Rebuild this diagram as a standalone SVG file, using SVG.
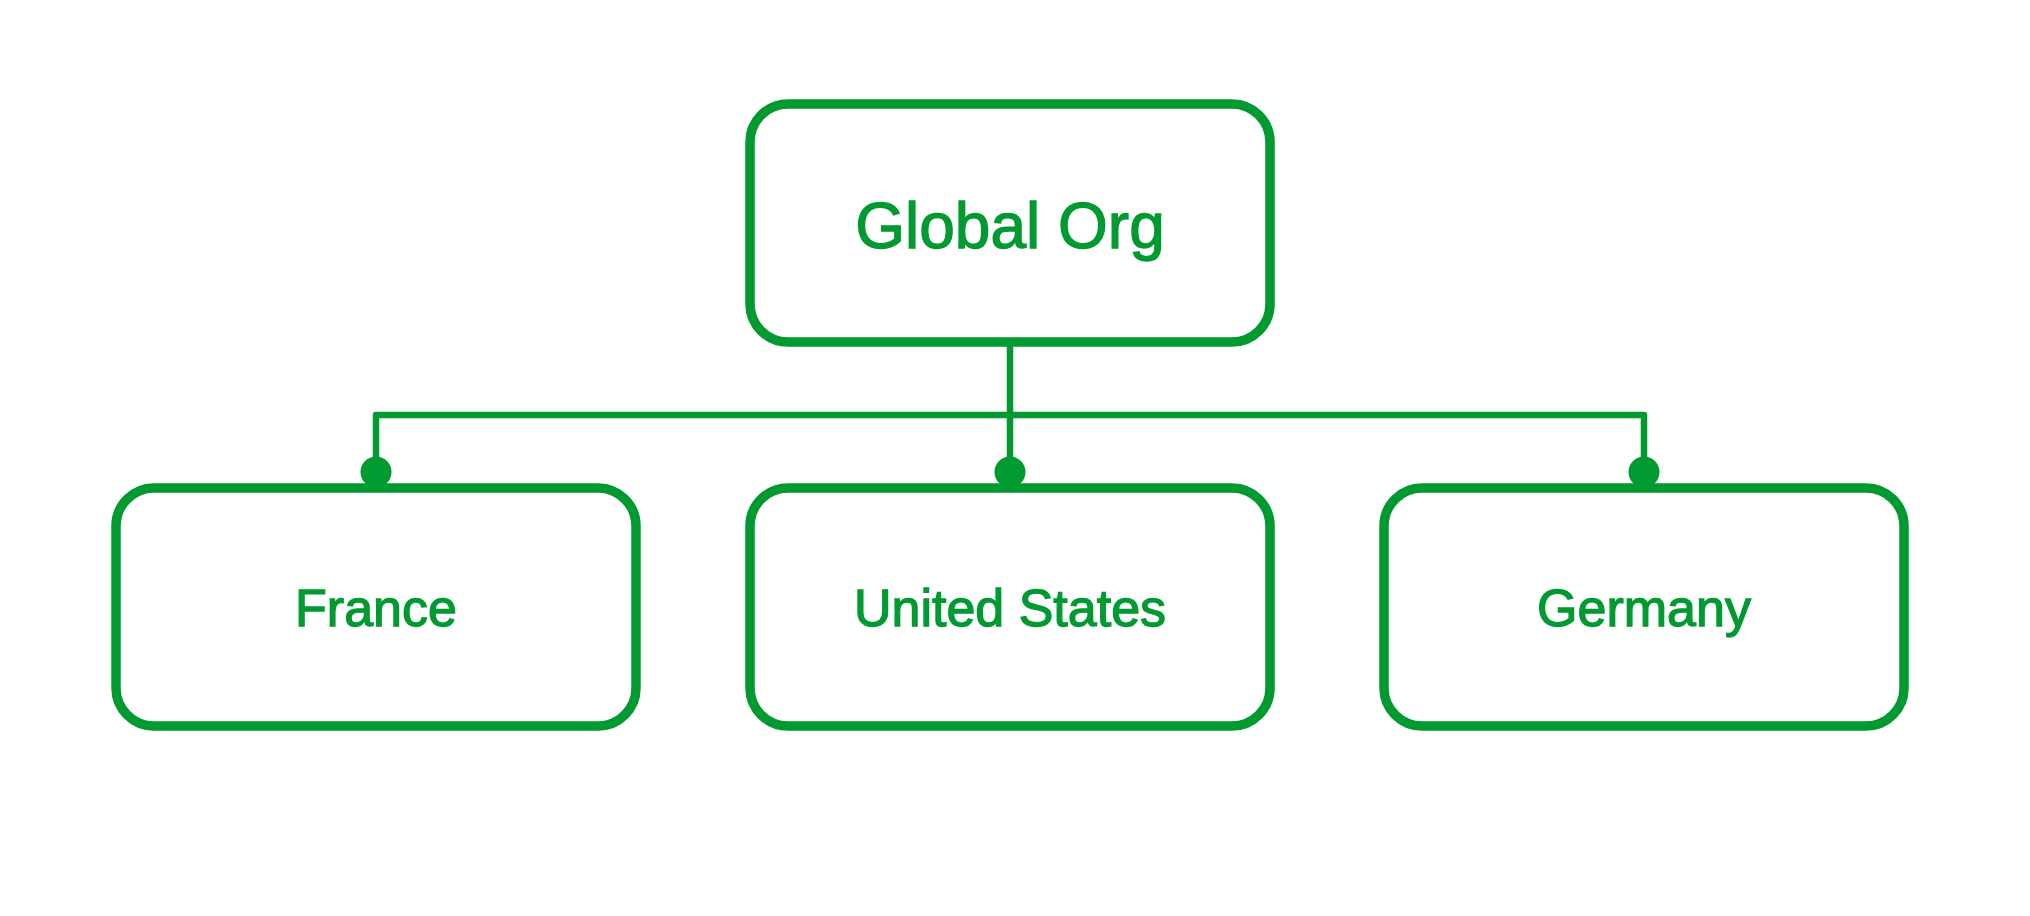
<svg xmlns="http://www.w3.org/2000/svg" width="2030" height="916" viewBox="0 0 2030 916">
<style>
.box{fill:#ffffff;stroke:#009a31;stroke-width:9.5}
.lbl{font-family:"Liberation Sans",Arial,sans-serif;fill:#009a31;stroke:#009a31;stroke-width:1.3;text-anchor:middle}
.conn{fill:none;stroke:#009a31;stroke-width:6.5;stroke-linejoin:round}
.dot{fill:#009a31}
</style>
<rect width="2030" height="916" fill="#ffffff"/>
<g id="connectors">
<path class="conn" d="M1010,342 V472"/>
<path class="conn" d="M376,472 V415 H1644 V472"/>
<circle class="dot" cx="376" cy="472" r="15.5"/>
<circle class="dot" cx="1010" cy="472" r="15.5"/>
<circle class="dot" cx="1644" cy="472" r="15.5"/>
</g>
<g id="global-org">
<rect class="box" x="750" y="104" width="520" height="238" rx="38"/>
<text class="lbl" x="1010" y="248" font-size="64">Global Org</text>
</g>
<g id="france">
<rect class="box" x="116" y="488" width="520" height="238" rx="38"/>
<text class="lbl" x="376" y="626" font-size="52">France</text>
</g>
<g id="united-states">
<rect class="box" x="750" y="488" width="520" height="238" rx="38"/>
<text class="lbl" x="1010" y="626" font-size="52">United States</text>
</g>
<g id="germany">
<rect class="box" x="1384" y="488" width="520" height="238" rx="38"/>
<text class="lbl" x="1644" y="626" font-size="52">Germany</text>
</g>
</svg>
